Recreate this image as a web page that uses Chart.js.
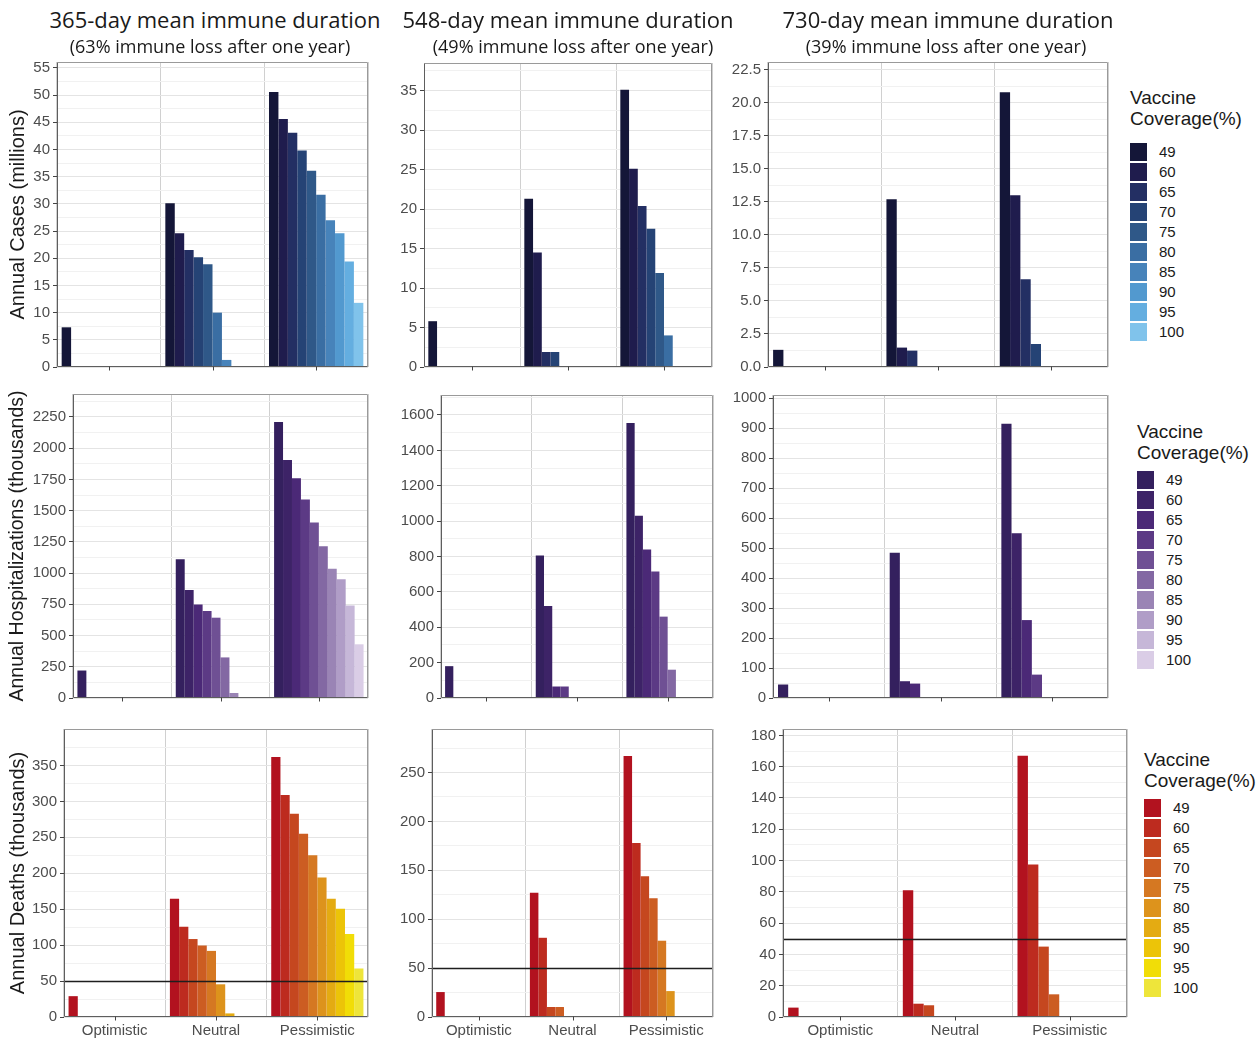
<!DOCTYPE html>
<html><head><meta charset="utf-8">
<script src="https://cdn.jsdelivr.net/npm/chart.js@4.4.1/dist/chart.umd.min.js"></script>
<style>
html,body{margin:0;padding:0;background:#fff;}
body{width:1257px;height:1038px;position:relative;overflow:hidden;font-family:"Liberation Sans",Arial,sans-serif;}
canvas{position:absolute;}
.ttl{position:absolute;font-family:"Open Sans",sans-serif;color:#1a1a1a;white-space:nowrap;transform:translateX(-50%);line-height:1;}
.leg{position:absolute;color:#1a1a1a;font-family:"Liberation Sans",Arial,sans-serif;}
.leg .lt{font-size:19px;line-height:21px;white-space:nowrap;}
.leg .it{position:absolute;left:0;height:18px;width:120px;}
.leg .sw{position:absolute;left:0;top:0;width:17px;height:18px;}
.leg .lb{position:absolute;left:29px;top:0;font-size:15px;line-height:18px;}
</style></head><body>
<script>
// ---------- data ----------
const scenarios = ['Optimistic', 'Neutral', 'Pessimistic'];
const coverageLevels = ['49', '60', '65', '70', '75', '80', '85', '90', '95', '100'];
const durationTitles = ['365-day mean immune duration', '548-day mean immune duration', '730-day mean immune duration'];
const lossSubtitles = ['(63% immune loss after one year)', '(49% immune loss after one year)', '(39% immune loss after one year)'];
const outcomeTitles = ['Annual Cases (millions)', 'Annual Hospitalizations (thousands)', 'Annual Deaths (thousands)'];
const legendTitle = ['Vaccine', 'Coverage(%)'];

// each array: [Optimistic, Neutral, Pessimistic], each of those by coverage level 49..100
const cases365 = [
  [7.3, 0, 0, 0, 0, 0, 0, 0, 0, 0],
  [30.1, 24.6, 21.5, 20.2, 18.9, 10.0, 1.3, 0, 0, 0],
  [50.6, 45.6, 43.1, 39.8, 36.1, 31.7, 27.0, 24.6, 19.4, 11.8]];
const cases548 = [
  [5.8, 0, 0, 0, 0, 0, 0, 0, 0, 0],
  [21.3, 14.5, 1.9, 1.9, 0, 0, 0, 0, 0, 0],
  [35.1, 25.1, 20.4, 17.5, 11.9, 4.0, 0, 0, 0, 0]];
const cases730 = [
  [1.3, 0, 0, 0, 0, 0, 0, 0, 0, 0],
  [12.7, 1.47, 1.24, 0, 0, 0, 0, 0, 0, 0],
  [20.8, 13.0, 6.65, 1.74, 0, 0, 0, 0, 0, 0]];
const hosp365 = [
  [220, 0, 0, 0, 0, 0, 0, 0, 0, 0],
  [1110, 865, 748, 697, 643, 325, 40, 0, 0, 0],
  [2210, 1905, 1760, 1590, 1405, 1215, 1035, 950, 740, 430]];
const hosp548 = [
  [180, 0, 0, 0, 0, 0, 0, 0, 0, 0],
  [805, 520, 65, 65, 0, 0, 0, 0, 0, 0],
  [1555, 1030, 840, 715, 460, 160, 0, 0, 0, 0]];
const hosp730 = [
  [45, 0, 0, 0, 0, 0, 0, 0, 0, 0],
  [485, 56, 48, 0, 0, 0, 0, 0, 0, 0],
  [915, 550, 260, 78, 0, 0, 0, 0, 0, 0]];
const deaths365 = [
  [29, 0, 0, 0, 0, 0, 0, 0, 0, 0],
  [164.5, 125.5, 108.5, 99.5, 92, 45.5, 5, 0, 0, 0],
  [362, 309, 283, 255, 225, 194, 164.5, 150.5, 115.5, 67.5]];
const deaths548 = [
  [25.5, 0, 0, 0, 0, 0, 0, 0, 0, 0],
  [127, 81, 10.2, 10.2, 0, 0, 0, 0, 0, 0],
  [267, 178, 144, 121.5, 78, 26.5, 0, 0, 0, 0]];
const deaths730 = [
  [6, 0, 0, 0, 0, 0, 0, 0, 0, 0],
  [81, 8.5, 7.5, 0, 0, 0, 0, 0, 0, 0],
  [167, 97.5, 45, 14.5, 0, 0, 0, 0, 0, 0]];
const deathThreshold = 50;

// y axis ranges / ticks (rows: cases, hosp, deaths; columns: 365, 548, 730)
const axisMax = [[56.1, 38.5, 23.1], [2434, 1713, 1011], [400.8, 294.5, 184.1]];
const axisMajorStep = [[5, 5, 2.5], [250, 200, 100], [50, 50, 20]];
const topTickLabel = [[55, 35, 22.5], [2250, 1600, 1000], [350, 250, 180]];
const tickDecimals = [[0, 0, 1], [0, 0, 0], [0, 0, 0]];

const panelValues = [
  [cases365, cases548, cases730],
  [hosp365, hosp548, hosp730],
  [deaths365, deaths548, deaths730]];

// ---------- styles ----------
const blues = ['#141638', '#1f1c4d', '#232f63', '#254375', '#2f5888', '#3a6ea3', '#4783ba', '#5299cf', '#64aee0', '#80c3eb'];
const purples = ['#34205e', '#3d2367', '#4b2977', '#5c3a85', '#6f5094', '#8368a3', '#9a84b5', '#b09dc7', '#c6b7d8', '#dacde6'];
const reds = ['#b2121f', '#bd2b1f', '#c5471f', '#cc5d22', '#d57822', '#dd931c', '#e4ab12', '#ecc408', '#f1dd07', '#eee53a'];
const palettes = [blues, purples, reds];

// plot-area boxes [left, top, right, bottom]
const boxes = [
  [[57, 62, 368, 367], [424, 63, 712, 367], [768, 62, 1108, 367]],
  [[73, 394, 368, 698], [441, 395, 713, 698], [773, 395, 1108, 698]],
  [[64, 729, 368, 1017], [432, 729, 713, 1017], [783, 729, 1127, 1017]]];
const legendPos = [[1130, 87, 143], [1137, 421, 471], [1144, 749, 799]];
const titleX = [215, 568, 948];
const subX = [210, 573, 946];

const FAM = '"Liberation Sans", Arial, sans-serif';
const PAD = 14;

const framePlugin = {
  id: 'frame',
  afterDatasetsDraw(chart, args, opts) {
    if (opts.threshold == null) return;
    const {ctx, chartArea: a, scales} = chart;
    const y = Math.round(scales.y.getPixelForValue(opts.threshold)) + 0.5;
    ctx.save();
    ctx.strokeStyle = '#1e1e1e'; ctx.lineWidth = 1.3;
    ctx.beginPath(); ctx.moveTo(a.left, y); ctx.lineTo(a.right, y); ctx.stroke();
    ctx.restore();
  },
  afterDraw(chart) {
    const {ctx, chartArea: a, scales} = chart;
    const l = Math.round(a.left) + 0.5, r = Math.round(a.right) - 0.5;
    const t = Math.round(a.top) + 0.5, b = Math.round(a.bottom) - 0.5;
    ctx.save();
    ctx.lineWidth = 1;
    ctx.strokeStyle = '#9a9a9a';
    ctx.beginPath(); ctx.moveTo(l, t); ctx.lineTo(r, t); ctx.lineTo(r, b); ctx.stroke();
    ctx.strokeStyle = '#5e5e5e';
    ctx.beginPath(); ctx.moveTo(l, t); ctx.lineTo(l, b); ctx.lineTo(r, b); ctx.stroke();
    const xs = scales.x;
    ctx.strokeStyle = '#444';
    ctx.beginPath();
    xs.ticks.forEach((tk, i) => {
      const px = Math.round(xs.getPixelForTick(i)) + 0.5;
      ctx.moveTo(px, b); ctx.lineTo(px, b + 4);
    });
    ctx.stroke();
    ctx.restore();
  }
};

function makePanel(row, col) {
  const [L, T, R, B] = boxes[row][col];
  const left = col === 0 ? 0 : L - 50;
  const top = T - PAD;
  const xh = row === 2 ? 30 : 14;
  const w = R + PAD - left, h = B + xh - top;
  const cv = document.createElement('canvas');
  cv.width = w; cv.height = h;
  cv.style.left = left + 'px'; cv.style.top = top + 'px';
  cv.style.width = w + 'px'; cv.style.height = h + 'px';
  document.body.appendChild(cv);
  const yw = L - left;
  const major = axisMajorStep[row][col];
  const topLab = topTickLabel[row][col];
  const isMajor = v => Math.abs(v / major - Math.round(v / major)) < 1e-6;
  const dec = tickDecimals[row][col];
  const vals = panelValues[row][col];
  const datasets = coverageLevels.map((lv, i) => ({
    label: lv,
    data: vals.map(s => s[i]),
    backgroundColor: palettes[row][i],
    borderWidth: 0,
    categoryPercentage: 0.91,
    barPercentage: 1.0
  }));
  new Chart(cv, {
    type: 'bar',
    data: {labels: scenarios, datasets},
    options: {
      responsive: false, animation: false, devicePixelRatio: 1,
      layout: {padding: {top: PAD, right: PAD, left: 0, bottom: 0}},
      plugins: {legend: {display: false}, tooltip: {enabled: false},
        frame: {threshold: row === 2 ? deathThreshold : null}},
      scales: {
        x: {
          offset: true,
          grid: {offset: true, color: '#d0d0d0', lineWidth: 1, drawTicks: false},
          border: {display: false},
          ticks: {display: row === 2, color: '#4d4d4d', font: {size: 15, family: FAM}, padding: 5, maxRotation: 0, autoSkip: false},
          afterFit(s) { s.height = xh; }
        },
        y: {
          min: 0, max: axisMax[row][col],
          border: {display: false},
          ticks: {
            stepSize: major / 2, includeBounds: false, autoSkip: false,
            color: '#4d4d4d', font: {size: 15, family: FAM}, padding: 3,
            callback: v => (isMajor(v) && v <= topLab + 1e-9) ? Number(v).toFixed(dec) : ''
          },
          grid: {
            color: c => (c.tick && isMajor(c.tick.value)) ? '#e4e4e4' : '#f1f1f1',
            tickColor: c => (c.tick && isMajor(c.tick.value) && c.tick.value <= topLab + 1e-9) ? '#444' : 'rgba(0,0,0,0)',
            tickLength: 4, lineWidth: 1
          },
          title: {display: col === 0, text: outcomeTitles[row], color: '#1a1a1a',
            font: {size: row === 1 ? 19.5 : 20, family: FAM}, padding: {top: 6, bottom: 0}},
          afterFit(s) { s.width = yw; }
        }
      }
    },
    plugins: [framePlugin]
  });
}

for (let r = 0; r < 3; r++) for (let c = 0; c < 3; c++) makePanel(r, c);

// column titles
for (let c = 0; c < 3; c++) {
  const t = document.createElement('div');
  t.className = 'ttl'; t.textContent = durationTitles[c];
  t.style.left = titleX[c] + 'px'; t.style.top = '8px'; t.style.fontSize = '22px';
  document.body.appendChild(t);
  const s = document.createElement('div');
  s.className = 'ttl'; s.textContent = lossSubtitles[c];
  s.style.left = subX[c] + 'px'; s.style.top = '37px'; s.style.fontSize = '18px';
  document.body.appendChild(s);
}

// legends
for (let r = 0; r < 3; r++) {
  const [lx, ty, by] = legendPos[r];
  const lg = document.createElement('div');
  lg.className = 'leg'; lg.style.left = lx + 'px'; lg.style.top = ty + 'px';
  const lt = document.createElement('div'); lt.className = 'lt';
  lt.innerHTML = legendTitle[0] + '<br>' + legendTitle[1];
  lg.appendChild(lt);
  coverageLevels.forEach((lv, i) => {
    const it = document.createElement('div'); it.className = 'it';
    it.style.top = (by - ty + i * 20) + 'px';
    const sw = document.createElement('div'); sw.className = 'sw'; sw.style.background = palettes[r][i];
    const lb = document.createElement('div'); lb.className = 'lb'; lb.textContent = lv;
    it.appendChild(sw); it.appendChild(lb); lg.appendChild(it);
  });
  document.body.appendChild(lg);
}
</script>
</body></html>
